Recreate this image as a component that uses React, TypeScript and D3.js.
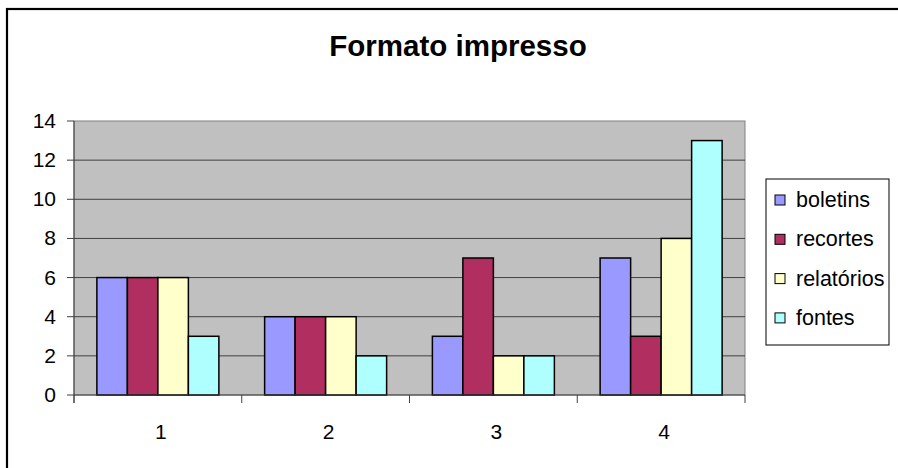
import React from "react";
import * as d3 from "d3";

const categories = ["1", "2", "3", "4"];
const seriesNames = ["boletins", "recortes", "relatórios", "fontes"];
const boletins = [6, 4, 3, 7];
const recortes = [6, 4, 7, 3];
const relatorios = [6, 4, 2, 8];
const fontes = [3, 2, 2, 13];
const yTicks = [0, 2, 4, 6, 8, 10, 12, 14];
const colors = ["#9999FF", "#B02E60", "#FFFFCC", "#B0FFFF"];

const W = 898;
const H = 468;
const plot = { left: 74, top: 121, right: 745, bottom: 395 };
const font = "Liberation Sans, Arial, sans-serif";

export default function App() {
  const series = [boletins, recortes, relatorios, fontes];
  const x = d3.scaleBand<string>().domain(categories).range([plot.left, plot.right]).padding(0);
  const bw = x.bandwidth() / (series.length + 1.5);
  const y = d3.scaleLinear().domain([0, 14]).range([plot.bottom, plot.top]);

  return (
    <svg width={W} height={H} style={{ position: "absolute", left: 0, top: 0 }}>
      <rect x={0} y={0} width={W} height={H} fill="#fff" />
      <rect x={7} y={9} width={W + 20} height={H + 20} fill="none" stroke="#000" strokeWidth={2.2} />
      <text x={458} y={56} textAnchor="middle" fontFamily={font} fontWeight="bold" fontSize={29.5} fill="#000">
        Formato impresso
      </text>
      <rect x={plot.left} y={plot.top} width={plot.right - plot.left} height={plot.bottom - plot.top} fill="#C0C0C0" stroke="#808080" strokeWidth={1} />
      {yTicks.filter((t) => t > 0 && t < 14).map((t) => (
        <line key={"g" + t} x1={plot.left} x2={plot.right} y1={y(t)} y2={y(t)} stroke="#404040" strokeWidth={1} />
      ))}
      {series.map((vals, si) =>
        vals.map((v, ci) => {
          const bx = (x(categories[ci]) as number) + bw * 0.75 + si * bw;
          return (
            <rect key={si + "-" + ci} x={bx} y={y(v)} width={bw} height={y(0) - y(v)} fill={colors[si]} stroke="#000" strokeWidth={1.5} />
          );
        })
      )}
      <line x1={plot.left} x2={plot.left} y1={plot.top} y2={plot.bottom + 8} stroke="#404040" strokeWidth={1} />
      <line x1={plot.left} x2={plot.right} y1={plot.bottom} y2={plot.bottom} stroke="#404040" strokeWidth={1} />
      {yTicks.map((t) => (
        <g key={"t" + t}>
          <line x1={plot.left - 7} x2={plot.left} y1={y(t)} y2={y(t)} stroke="#404040" strokeWidth={1} />
          <text x={plot.left - 18} y={y(t) + 7} textAnchor="end" fontFamily={font} fontSize={21} fill="#000">
            {t}
          </text>
        </g>
      ))}
      {[...categories.map((c) => x(c) as number), plot.right].map((px, i) => (
        <line key={"xt" + i} x1={px} x2={px} y1={plot.bottom} y2={plot.bottom + 8} stroke="#404040" strokeWidth={1} />
      ))}
      {categories.map((c) => (
        <text key={"c" + c} x={(x(c) as number) + x.bandwidth() / 2 + 3} y={439} textAnchor="middle" fontFamily={font} fontSize={21} fill="#000">
          {c}
        </text>
      ))}
      <rect x={766} y={179} width={123} height={166} fill="#fff" stroke="#000" strokeWidth={1} />
      {seriesNames.map((n, i) => (
        <g key={"l" + n}>
          <rect x={775} y={195 + i * 39.3} width={10} height={10} fill={colors[i]} stroke="#000" strokeWidth={1} />
          <text x={796} y={207 + i * 39.3} fontFamily={font} fontSize={21.5} fill="#000">
            {n}
          </text>
        </g>
      ))}
    </svg>
  );
}
